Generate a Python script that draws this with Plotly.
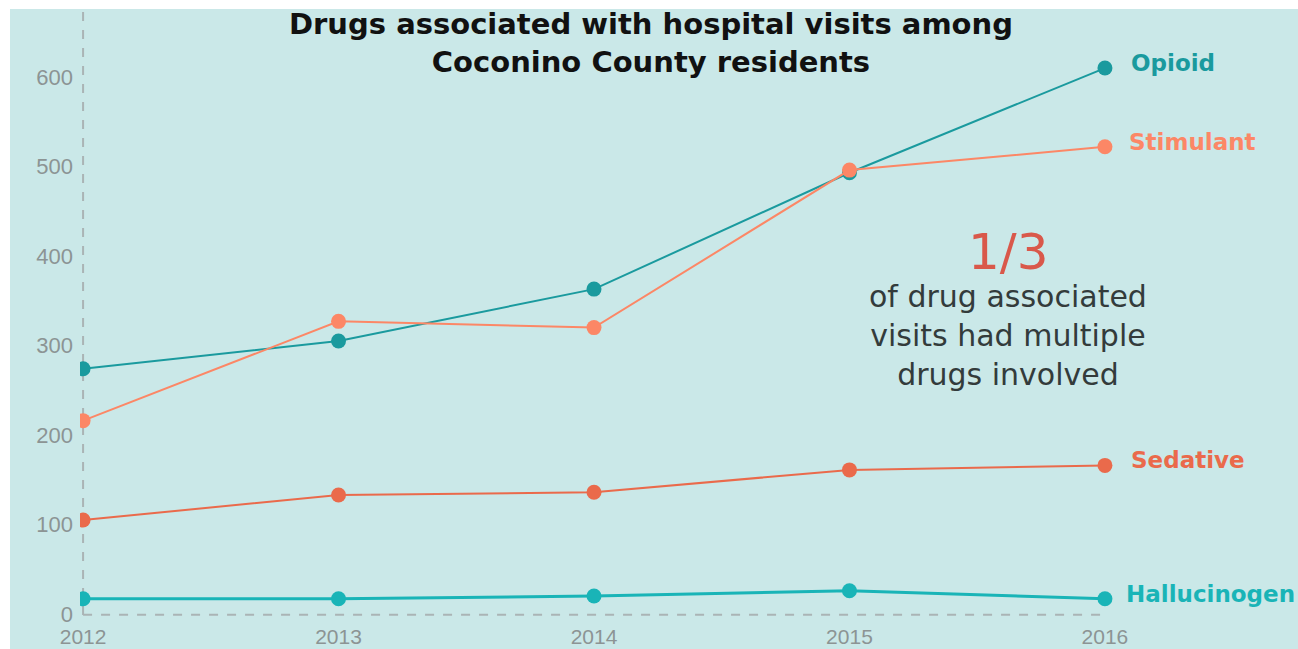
import plotly.graph_objects as go

years = [2012, 2013, 2014, 2015, 2016]
opioid = [274, 305, 363, 493, 610]
stimulant = [216, 327, 320, 496, 522]
sedative = [105, 133, 136, 161, 166]
hallucinogen = [17, 17, 20, 26, 17]

series = [
    ("Opioid", opioid, "#1a9a9e", 2, 24),
    ("Stimulant", stimulant, "#fc8766", 2, 22),
    ("Sedative", sedative, "#ea6a4b", 2, 24),
    ("Hallucinogen", hallucinogen, "#19b4b7", 3, 19),
]

y_ticks = [0, 100, 200, 300, 400, 500, 600]

BG = "#cae8e8"
GRID = "#aab4b5"

fig = go.Figure()
for name, vals, color, w, dx in series:
    fig.add_trace(go.Scatter(
        x=years, y=vals, mode="lines+markers", name=name,
        line=dict(color=color, width=w),
        marker=dict(color=color, size=15),
        hoverinfo="x+y+name",
    ))
    fig.add_annotation(
        x=years[-1], y=vals[-1], xref="x", yref="y",
        text="<b>%s</b>" % name, showarrow=False,
        xanchor="left", xshift=dx, yshift=5,
        font=dict(family="DejaVu Sans", size=23, color=color),
    )

# dashed axis lines
fig.add_shape(type="line", xref="x", yref="paper", x0=2012, x1=2012, y0=0.005, y1=1,
              line=dict(color=GRID, width=2, dash="dash"), layer="below")
fig.add_shape(type="line", xref="x", yref="y", x0=2012, x1=2016, y0=-1, y1=-1,
              line=dict(color=GRID, width=2, dash="dash"), layer="below")

# white strips outside the panel (top and left)
fig.add_shape(type="rect", xref="paper", yref="paper", x0=-0.2, x1=1.3, y0=1.0, y1=1.1,
              fillcolor="white", line=dict(width=0), layer="below")
fig.add_shape(type="rect", xref="paper", yref="paper", x0=-0.2, x1=-70 / 1098, y0=-0.2, y1=1.1,
              fillcolor="white", line=dict(width=0), layer="below")

fig.add_annotation(x=0.5, y=1, xref="paper", yref="paper",
                   text="<b>Drugs associated with hospital visits among<br>Coconino County residents</b>",
                   showarrow=False, xanchor="center", yanchor="middle", yshift=-34, xshift=22,
                   font=dict(family="DejaVu Sans", size=29, color="#111111"))

fig.add_annotation(x=2015.62, y=405, xref="x", yref="y", text="1/3", showarrow=False,
                   xanchor="center", yanchor="middle",
                   font=dict(family="DejaVu Sans", size=50, color="#d9584a"))
fig.add_annotation(x=2015.62, y=311, xref="x", yref="y",
                   text="of drug associated<br>visits had multiple<br>drugs involved", showarrow=False,
                   xanchor="center", yanchor="middle",
                   font=dict(family="DejaVu Sans", size=30, color="#333b3b"))

fig.update_layout(
    width=1298, height=649,
    paper_bgcolor=BG, plot_bgcolor=BG,
    margin=dict(l=80, r=120, t=9, b=31, autoexpand=False),
    showlegend=False,
    xaxis=dict(range=[2011.988, 2016.286], tickvals=years, showgrid=False, zeroline=False,
               showline=False, ticks="", ticklabelstandoff=4, automargin=False,
               tickfont=dict(family="Liberation Sans", size=21, color="#8c9494")),
    yaxis=dict(range=[-4.5, 676], tickvals=y_ticks, showgrid=False, zeroline=False,
               showline=False, ticks="", ticklabelstandoff=6, automargin=False,
               tickfont=dict(family="Liberation Sans", size=22, color="#8c9494")),
)

fig.write_html("out.html")
